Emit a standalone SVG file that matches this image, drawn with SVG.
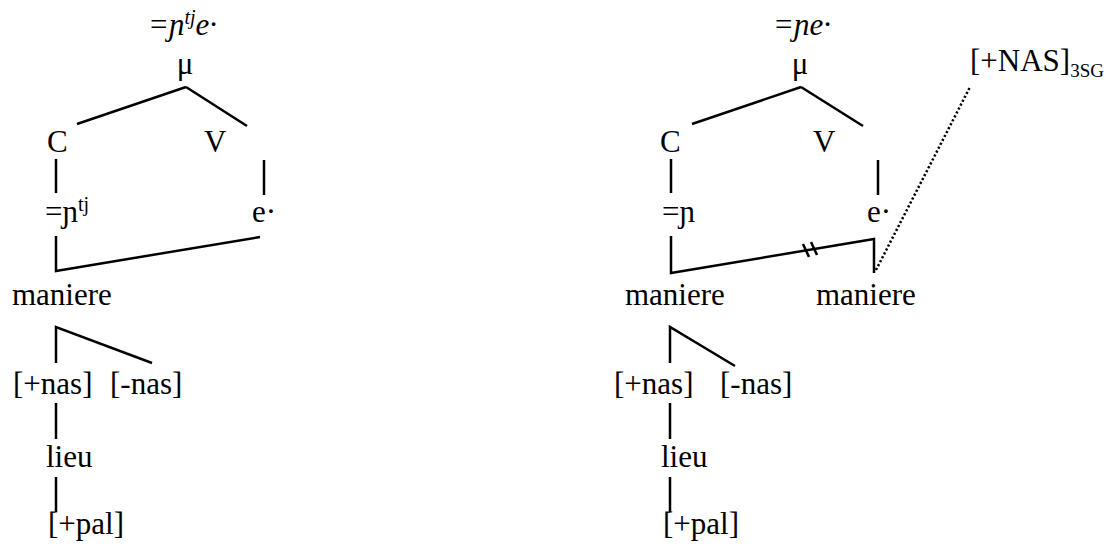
<svg xmlns="http://www.w3.org/2000/svg" width="1117" height="550" viewBox="0 0 1117 550">
<style>
text{font-family:"Liberation Serif","DejaVu Serif",serif;font-size:31px;fill:#000}
.it{font-style:italic}
.sup{font-size:20px}
.sub{font-size:19px}
.ln{stroke:#000;stroke-width:2.5;fill:none;stroke-linecap:butt;stroke-linejoin:miter}
.dot{stroke:#000;stroke-width:2.5;fill:none;stroke-dasharray:2.2 2.2}
</style>
<rect width="1117" height="550" fill="#fff"/>
<g id="connectors">
<path class="ln" d="M186,87 L77,124 M186,87 L247,126"/>
<path class="ln" d="M56,159 V193 M264,160 V195"/>
<path class="ln" d="M56,236 V271 L260,237"/>
<path class="ln" d="M56,363 V327 L152,363"/>
<path class="ln" d="M56,403 V439 M56,477 V512"/>
<path class="ln" d="M801,87 L692,124 M801,87 L863,126"/>
<path class="ln" d="M671,159 V193 M878,160 V195"/>
<path class="ln" d="M671,236 V273 L874,239 V273"/>
<path class="ln" d="M803,244 L809,257 M811,242 L817,255"/>
<path class="dot" d="M876,270 L970,87"/>
<path class="ln" d="M670,363 V327 L735,366"/>
<path class="ln" d="M670,403 V439 M670,477 V512"/>
</g>
<g id="left-top"><text class="it" x="148" y="35">=ɲ<tspan class="sup" dy="-11">tj</tspan><tspan dy="11">e·</tspan></text></g>
<g id="left-mu"><text x="185" y="74" text-anchor="middle">μ</text></g>
<g id="left-C"><text x="47" y="152">C</text></g>
<g id="left-V"><text x="204" y="152">V</text></g>
<g id="left-n"><text x="45" y="222">=ɲ<tspan class="sup" dy="-11">tj</tspan></text></g>
<g id="left-e"><text x="252" y="222">e·</text></g>
<g id="left-maniere"><text x="12" y="305">maniere</text></g>
<g id="left-pnas"><text x="13" y="394">[+nas]</text></g>
<g id="left-mnas"><text x="110" y="394">[-nas]</text></g>
<g id="left-lieu"><text x="46" y="467">lieu</text></g>
<g id="left-pal"><text x="48" y="534">[+pal]</text></g>
<g id="right-top"><text class="it" x="773" y="35">=ɲe·</text></g>
<g id="right-mu"><text x="800" y="74" text-anchor="middle">μ</text></g>
<g id="right-C"><text x="660" y="152">C</text></g>
<g id="right-V"><text x="813" y="152">V</text></g>
<g id="right-n"><text x="662" y="222">=ɲ</text></g>
<g id="right-e"><text x="867" y="222">e·</text></g>
<g id="right-maniere1"><text x="625" y="305">maniere</text></g>
<g id="right-maniere2"><text x="816" y="305">maniere</text></g>
<g id="right-NAS"><text x="970" y="71">[+NAS]<tspan class="sub" dy="6">3SG</tspan></text></g>
<g id="right-pnas"><text x="614" y="394">[+nas]</text></g>
<g id="right-mnas"><text x="720" y="394">[-nas]</text></g>
<g id="right-lieu"><text x="661" y="467">lieu</text></g>
<g id="right-pal"><text x="663" y="534">[+pal]</text></g>
</svg>
